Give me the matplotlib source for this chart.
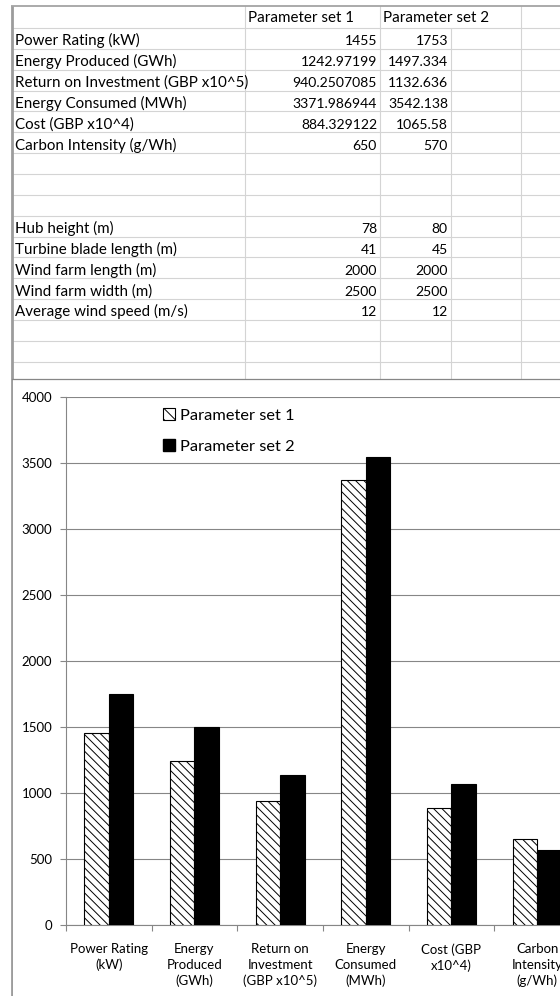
import matplotlib
matplotlib.use('Agg')
import matplotlib.pyplot as plt
from matplotlib.patches import Patch, Rectangle
import numpy as np

plt.rcParams['font.family'] = ['Lato', 'DejaVu Sans']
plt.rcParams['hatch.linewidth'] = 0.7

# ---------------- data ----------------
output_names = ["Power Rating (kW)", "Energy Produced (GWh)",
                "Return on Investment (GBP x10^5)", "Energy Consumed (MWh)",
                "Cost (GBP x10^4)", "Carbon Intensity (g/Wh)"]
set1_outputs = [1455, 1242.97199, 940.2507085, 3371.986944, 884.329122, 650]
set2_outputs = [1753, 1497.334, 1132.636, 3542.138, 1065.58, 570]

input_names = ["Hub height (m)", "Turbine blade length (m)", "Wind farm length (m)",
               "Wind farm width (m)", "Average wind speed (m/s)"]
set1_inputs = [78, 41, 2000, 2500, 12]
set2_inputs = [80, 45, 2000, 2500, 12]

series_names = ["Parameter set 1", "Parameter set 2"]
chart_categories = ["Power Rating\n(kW)", "Energy\nProduced\n(GWh)",
                    "Return on\nInvestment\n(GBP x10^5)", "Energy\nConsumed\n(MWh)",
                    "Cost (GBP\nx10^4)", "Carbon\nIntensity\n(g/Wh)"]
y_ticks = [0, 500, 1000, 1500, 2000, 2500, 3000, 3500, 4000]

# ---------------- figure ----------------
W, H = 560, 996
fig = plt.figure(figsize=(W / 100, H / 100), dpi=100)
fig.patch.set_facecolor('white')

sheet = fig.add_axes([0, 0, 1, 1])
sheet.set_xlim(0, W)
sheet.set_ylim(H, 0)
sheet.axis('off')

grid_c = '#d4d4d4'
border_c = '#9c9c9c'
col_x = [245, 380, 451, 521]
row0 = 28.0
rh = 20.85
n_lines = 17
chart_top = 379

# horizontal cell lines
for k in range(n_lines):
    y = row0 + k * rh
    sheet.plot([12, W], [y, y], color=grid_c, lw=0.8, solid_capstyle='butt')
# vertical cell lines
for x in col_x:
    y_start = 6 if x != 451 else row0
    sheet.plot([x, x], [y_start, chart_top], color=grid_c, lw=0.8, solid_capstyle='butt')
# outer borders
sheet.plot([11, W], [6, 6], color=border_c, lw=1.2, solid_capstyle='butt')
sheet.plot([11.5, 11.5], [6, H], color=border_c, lw=2.0, solid_capstyle='butt')

tfs = 10.9   # label text size
nfs = 10.1   # number text size
# header
sheet.text(248, 22, series_names[0], fontsize=tfs, ha='left', va='baseline')
sheet.text(383, 22, series_names[1], fontsize=tfs, ha='left', va='baseline')


def put_row(k, name, v1, v2):
    top = row0 + k * rh
    base = top + rh - 3.5
    t = sheet.text(15, base, name, fontsize=tfs, ha='left', va='baseline')
    clip = Rectangle((12, top), col_x[0] - 14, rh, transform=sheet.transData)
    t.set_clip_path(clip)
    sheet.text(col_x[1] - 3, base, str(v1), fontsize=nfs, ha='right', va='baseline')
    sheet.text(col_x[2] - 3, base, str(v2), fontsize=nfs, ha='right', va='baseline')


for i, (n, a, b) in enumerate(zip(output_names, set1_outputs, set2_outputs)):
    put_row(i, n, a, b)
for i, (n, a, b) in enumerate(zip(input_names, set1_inputs, set2_inputs)):
    put_row(9 + i, n, a, b)

# chart frame (white background covering cells)
sheet.add_patch(Rectangle((12.5, chart_top), W, H, facecolor='white', edgecolor='none', zorder=5))
sheet.plot([12, W], [chart_top, chart_top], color='#868686', lw=0.9, zorder=6)

# ---------------- chart ----------------
ax_left, ax_right, ax_bot, ax_top = 66, 580, 925, 397
ax = fig.add_axes([ax_left / W, (H - ax_bot) / H, (ax_right - ax_left) / W, (ax_bot - ax_top) / H])
ax.set_zorder(10)
ax.patch.set_alpha(0)

x = np.arange(len(chart_categories))
bw = 0.286
hatch = '\\' * 4
ax.bar(x - bw / 2, set1_outputs, bw, color='white', edgecolor='black', hatch=hatch,
       lw=0.8, label=series_names[0], zorder=3)
ax.bar(x + bw / 2, set2_outputs, bw, color='black', edgecolor='black',
       lw=0.8, label=series_names[1], zorder=3)

ax.set_xlim(-0.5, len(chart_categories) - 0.5)
ax.set_ylim(0, 4000)
ax.set_yticks(y_ticks)
ax.yaxis.grid(True, color='#868686', lw=0.8)
ax.set_axisbelow(True)

for s in ['top', 'right']:
    ax.spines[s].set_visible(False)
for s in ['left', 'bottom']:
    ax.spines[s].set_color('#868686')
    ax.spines[s].set_linewidth(0.8)

cfs = 9.5
ax.tick_params(axis='y', direction='out', length=4.3, width=0.8, color='#868686',
               labelsize=cfs, pad=5.5)
ax.set_xticks(np.arange(-0.5, len(chart_categories), 1.0))
ax.set_xticklabels([])
ax.tick_params(axis='x', which='major', direction='out', length=4.3, width=0.8, color='#868686')
ax.set_xticks(x, minor=True)
ax.set_xticklabels(chart_categories, minor=True, fontsize=cfs, linespacing=1.35)
ax.tick_params(axis='x', which='minor', length=0, pad=13)

leg = ax.legend(handles=[Patch(facecolor='white', edgecolor='black', hatch='\\' * 3, lw=0.8),
                         Patch(facecolor='black', edgecolor='black')],
                labels=series_names,
                loc='upper left', bbox_to_anchor=(163 / W, 1 - 408 / H),
                bbox_transform=fig.transFigure, frameon=False, fontsize=11.8,
                handlelength=0.72, handleheight=0.72, handletextpad=0.3,
                labelspacing=1.0, borderpad=0, borderaxespad=0)

fig.savefig('out.png', dpi=100)
